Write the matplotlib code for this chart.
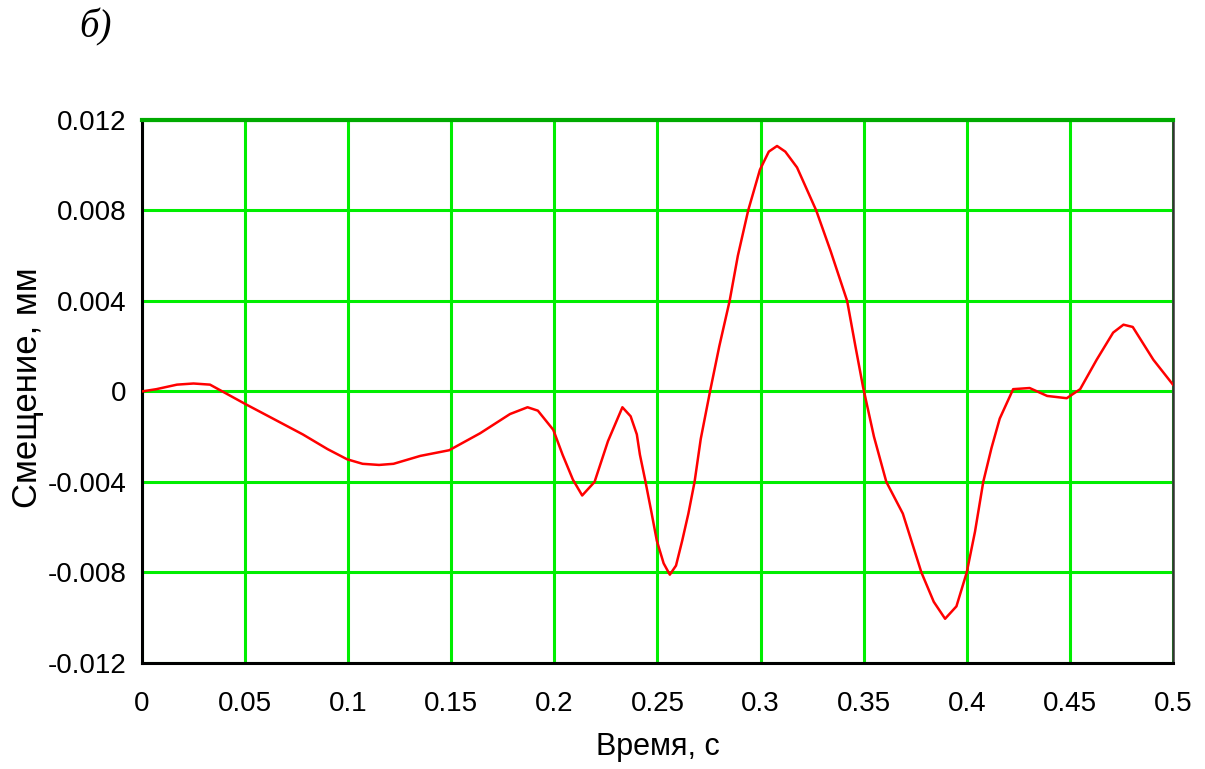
import matplotlib
matplotlib.use("Agg")
import matplotlib.pyplot as plt
import numpy as np

# Data (time in s, displacement in 1e-3 mm)
time_s = [0, 0.007, 0.017, 0.025, 0.033, 0.038, 0.043, 0.05, 0.0635, 0.078, 0.09,
          0.0995, 0.107, 0.115, 0.122, 0.135, 0.149, 0.164, 0.1785, 0.187, 0.192,
          0.1995, 0.204, 0.209, 0.2135, 0.2195, 0.226, 0.233, 0.237, 0.240, 0.2415,
          0.244, 0.247, 0.2497, 0.253, 0.256, 0.259, 0.262, 0.265, 0.268, 0.271,
          0.2755, 0.280, 0.285, 0.289, 0.294, 0.2997, 0.304, 0.308, 0.312, 0.3177,
          0.327, 0.334, 0.342, 0.346, 0.3497, 0.355, 0.361, 0.369, 0.378, 0.384,
          0.3895, 0.395, 0.400, 0.404, 0.408, 0.412, 0.416, 0.4225, 0.4305, 0.439,
          0.4485, 0.455, 0.463, 0.471, 0.476, 0.4805, 0.4905, 0.5]
disp_e3 = [0, 0.1, 0.3, 0.35, 0.3, 0.05, -0.2, -0.55, -1.2, -1.9, -2.55,
           -3.0, -3.2, -3.25, -3.2, -2.85, -2.6, -1.85, -1.0, -0.7, -0.85,
           -1.7, -2.8, -3.9, -4.6, -4.0, -2.2, -0.7, -1.1, -1.9, -2.8,
           -3.9, -5.3, -6.6, -7.6, -8.1, -7.7, -6.6, -5.4, -4.0, -2.1,
           0.0, 2.0, 4.0, 6.0, 8.0, 9.8, 10.6, 10.85, 10.6, 9.9,
           8.0, 6.2, 4.0, 2.0, 0.2, -2.0, -4.0, -5.4, -8.0, -9.3,
           -10.05, -9.5, -8.0, -6.2, -4.0, -2.5, -1.2, 0.1, 0.15, -0.2,
           -0.3, 0.1, 1.4, 2.6, 2.95, 2.85, 1.4, 0.3]
displacement = [v * 1e-3 for v in disp_e3]

x_ticks = [0, 0.05, 0.1, 0.15, 0.2, 0.25, 0.3, 0.35, 0.4, 0.45, 0.5]
x_tick_labels = ["0", "0.05", "0.1", "0.15", "0.2", "0.25", "0.3", "0.35", "0.4", "0.45", "0.5"]
y_ticks = [-0.012, -0.008, -0.004, 0, 0.004, 0.008, 0.012]
y_tick_labels = ["-0.012", "-0.008", "-0.004", "0", "0.004", "0.008", "0.012"]

sans = ["Liberation Sans", "DejaVu Sans"]

fig = plt.figure(figsize=(12.05, 7.69), dpi=100)
ax = fig.add_axes([0.1178, 0.138, 0.8556, 0.706])

ax.plot(time_s, displacement, color="#ff0000", linewidth=1.8, zorder=3,
        solid_joinstyle="round")

ax.set_xlim(0, 0.5)
ax.set_ylim(-0.012, 0.012)
ax.set_xticks(x_ticks)
ax.set_xticklabels(x_tick_labels, fontfamily=sans, fontsize=20)
ax.set_yticks(y_ticks)
ax.set_yticklabels(y_tick_labels, fontfamily=sans, fontsize=20)
ax.tick_params(axis="both", length=0)
ax.tick_params(axis="x", pad=20)
ax.tick_params(axis="y", pad=11)

ax.grid(True, color="#00ee00", linewidth=2.2, zorder=1)
ax.set_axisbelow(True)

for side in ["left", "bottom"]:
    ax.spines[side].set_color("black")
    ax.spines[side].set_linewidth(2.2)
ax.spines["top"].set_color("#00aa00")
ax.spines["top"].set_linewidth(3)
ax.spines["right"].set_color("#333333")
ax.spines["right"].set_linewidth(1.8)

ax.set_xlabel("Время, с", fontfamily=sans, fontsize=22)
ax.xaxis.set_label_coords(0.5, -0.128)
ax.set_ylabel("Смещение, мм", fontfamily=sans, fontsize=25)
ax.yaxis.set_label_coords(-0.095, 0.506)

fig.text(0.066, 0.965, "б)", fontfamily=["Liberation Serif", "DejaVu Serif"],
         fontstyle="italic", fontsize=28, va="center", ha="left")

fig.savefig("out.png", dpi=100, facecolor="white")
